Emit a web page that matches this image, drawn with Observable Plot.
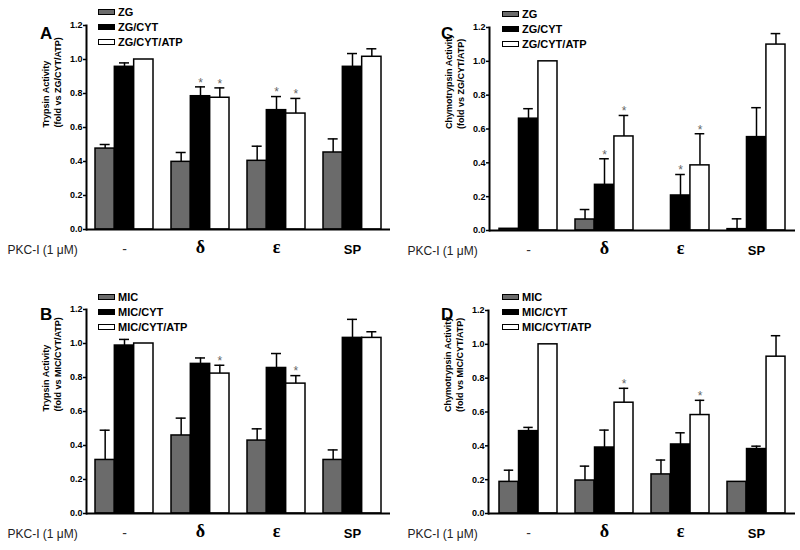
<!DOCTYPE html>
<html><head><meta charset="utf-8">
<script src="https://cdn.jsdelivr.net/npm/d3@7"></script>
<script src="https://cdn.jsdelivr.net/npm/@observablehq/plot@0.6"></script>
<style>
body{margin:0;background:#fff;}
#wrap{position:relative;width:800px;height:550px;font-family:"Liberation Sans",Arial,sans-serif;color:#000;overflow:hidden;}
.panel{position:absolute;}
.letter{position:absolute;font-weight:bold;font-size:17px;line-height:17px;}
.leg{position:absolute;font-weight:bold;font-size:11px;line-height:12px;display:flex;align-items:center;white-space:nowrap;}
.sw{display:inline-block;width:17px;height:6px;border:1px solid #000;box-sizing:border-box;margin-right:3px;}
</style></head>
<body><div id="wrap"></div>
<script>
const groups = ["-", "δ", "ε", "SP"];
const zgSeries = ["ZG", "ZG/CYT", "ZG/CYT/ATP"];
const micSeries = ["MIC", "MIC/CYT", "MIC/CYT/ATP"];
const yTicks = [0, 0.2, 0.4, 0.6, 0.8, 1.0, 1.2];
const rowLabel = "PKC-I (1 μM)";

// rows = series, columns = groups (-, δ, ε, SP)
const aMean = [[0.476, 0.398, 0.404, 0.453], [0.957, 0.784, 0.702, 0.957], [1.0, 0.775, 0.682, 1.016]];
const aErr  = [[0.024, 0.055, 0.086, 0.080], [0.023, 0.055, 0.080, 0.078], [0, 0.058, 0.089, 0.047]];
const aStar = [[0, 0, 0, 0], [0, 1, 1, 0], [0, 1, 1, 0]];

const bMean = [[0.315, 0.459, 0.429, 0.315], [0.988, 0.880, 0.856, 1.033], [1.0, 0.823, 0.764, 1.033]];
const bErr  = [[0.175, 0.102, 0.069, 0.059], [0.036, 0.035, 0.085, 0.109], [0, 0.049, 0.047, 0.036]];
const bStar = [[0, 0, 0, 0], [0, 0, 0, 0], [0, 1, 1, 0]];

const cMean = [[0.010, 0.065, 0, 0.008], [0.661, 0.270, 0.207, 0.552], [1.0, 0.556, 0.385, 1.099]];
const cErr  = [[0, 0.059, 0, 0.061], [0.059, 0.154, 0.124, 0.174], [0, 0.124, 0.187, 0.065]];
const cStar = [[0, 0, 0, 0], [0, 1, 1, 0], [0, 1, 1, 0]];

const dMean = [[0.187, 0.195, 0.231, 0.187], [0.487, 0.390, 0.408, 0.381], [1.0, 0.655, 0.582, 0.927]];
const dErr  = [[0.069, 0.085, 0.085, 0], [0.022, 0.103, 0.069, 0.017], [0, 0.085, 0.087, 0.124]];
const dStar = [[0, 0, 0, 0], [0, 0, 0, 0], [0, 1, 1, 0]];

const fills = ["#6b6b6b", "#000000", "#ffffff"];
const PI = 0.237, PO = 0.118;

function panel(cfg) {
  const {left, top, ml, mr, mt, mb, mean, err, star, series, ylabel, letter, letterX, letterY, legX, legY, pkcX} = cfg;
  const W = 400, H = 275;
  const frameW = W - ml - mr;
  const step = frameW / (groups.length - PI + 2 * PO);
  const band = step * (1 - PI);
  const bw = band / 3;
  const rows = [];
  series.forEach((s, si) => groups.forEach((g, gi) => rows.push({
    group: g, si, mean: mean[si][gi], err: err[si][gi], star: star[si][gi], top: mean[si][gi] + err[si][gi]
  })));
  const marks = [];
  series.forEach((s, si) => {
    const r = rows.filter(d => d.si === si);
    marks.push(Plot.barY(r, {x: "group", y: "mean", fill: fills[si], stroke: "#000", strokeWidth: 1.5,
      insetLeft: si * bw, insetRight: (2 - si) * bw}));
  });
  series.forEach((s, si) => {
    const r = rows.filter(d => d.si === si && d.err > 0);
    const c = (si + 0.5) * bw;
    marks.push(Plot.ruleX(r, {x: "group", y1: "mean", y2: "top", dx: c - band / 2, stroke: "#000", strokeWidth: 1.5}));
    marks.push(Plot.tickY(r, {x: "group", y: "top", insetLeft: c - 5, insetRight: band - c - 5, stroke: "#000", strokeWidth: 1.5}));
  });
  series.forEach((s, si) => {
    const c = (si + 0.5) * bw;
    const st = rows.filter(d => d.si === si && d.star === 1);
    marks.push(Plot.text(st, {x: "group", y: "top", dx: c - band / 2, dy: -4, text: d => "*", fill: "#666",
      fontSize: 12}));
  });
  marks.push(Plot.ruleY([0], {stroke: "#000", strokeWidth: 2}));
  marks.push(Plot.frame({anchor: "left", stroke: "#000", strokeWidth: 2}));
  marks.push(Plot.axisY(yTicks, {tickFormat: d3.format(".1f"), tickSize: 3, tickPadding: 1, fontSize: 9,
    fontWeight: "bold", label: null, strokeWidth: 1.5}));
  marks.push(Plot.text(groups.filter(g => g === "-"), {x: d => d, frameAnchor: "bottom", dy: 24, text: d => d,
    fontSize: 14, fill: "#333"}));
  marks.push(Plot.text(groups.filter(g => g === "δ" || g === "ε"), {x: d => d, frameAnchor: "bottom", dy: 23, text: d => d,
    fontSize: 18, fontWeight: "bold", fontFamily: "Liberation Serif, serif"}));
  marks.push(Plot.text(groups.filter(g => g === "SP"), {x: d => d, frameAnchor: "bottom", dy: 24, text: d => d,
    fontSize: 13, fontWeight: "bold"}));
  marks.push(Plot.text([rowLabel], {frameAnchor: "bottom-left", dx: pkcX - ml, dy: 24, text: d => d,
    textAnchor: "start", fontSize: 12, fill: "#222"}));
  marks.push(Plot.text([ylabel], {frameAnchor: "left", dx: -35, rotate: -90, text: d => d,
    fontSize: 9, fontWeight: "bold", lineHeight: 1.3}));

  const chart = Plot.plot({
    width: W, height: H, marginLeft: ml, marginRight: mr, marginTop: mt, marginBottom: mb,
    style: {fontFamily: "Liberation Sans, Arial, sans-serif", background: "transparent", color: "#000"},
    x: {domain: groups, type: "band", paddingInner: PI, paddingOuter: PO, axis: null},
    y: {domain: [0, 1.2], axis: null},
    marks
  });
  const div = document.createElement("div");
  div.className = "panel";
  div.style.left = left + "px"; div.style.top = top + "px";
  div.appendChild(chart);
  const L = document.createElement("div");
  L.className = "letter"; L.textContent = letter;
  L.style.left = letterX + "px"; L.style.top = letterY + "px";
  div.appendChild(L);
  series.forEach((s, si) => {
    const e = document.createElement("div");
    e.className = "leg";
    e.style.left = legX + "px"; e.style.top = (legY + si * 15 - 6) + "px";
    const sw = document.createElement("span");
    sw.className = "sw"; sw.style.background = fills[si];
    e.appendChild(sw);
    e.appendChild(document.createTextNode(s));
    div.appendChild(e);
  });
  document.getElementById("wrap").appendChild(div);
}

panel({left: 0, top: 0, ml: 86, mr: 10, mt: 25, mb: 46, mean: aMean, err: aErr, star: aStar, series: zgSeries,
  ylabel: "Trypsin Activity\n(fold vs ZG/CYT/ATP)", letter: "A", letterX: 40, letterY: 25, legX: 98, legY: 12, pkcX: 7});
panel({left: 400, top: 0, ml: 89, mr: 5, mt: 27, mb: 45, mean: cMean, err: cErr, star: cStar, series: zgSeries,
  ylabel: "Chymotrypsin Activity\n(fold vs ZG/CYT/ATP)", letter: "C", letterX: 41, letterY: 25, legX: 102, legY: 14, pkcX: 7});
panel({left: 0, top: 275, ml: 86, mr: 10, mt: 34, mb: 37, mean: bMean, err: bErr, star: bStar, series: micSeries,
  ylabel: "Trypsin Activity\n(fold vs MIC/CYT/ATP)", letter: "B", letterX: 40, letterY: 31, legX: 98, legY: 22, pkcX: 7});
panel({left: 400, top: 275, ml: 88, mr: 5, mt: 35, mb: 37, mean: dMean, err: dErr, star: dStar, series: micSeries,
  ylabel: "Chymotrypsin Activity\n(fold vs MIC/CYT/ATP)", letter: "D", letterX: 41, letterY: 31, legX: 102, legY: 22, pkcX: 7});
</script>
</body></html>
